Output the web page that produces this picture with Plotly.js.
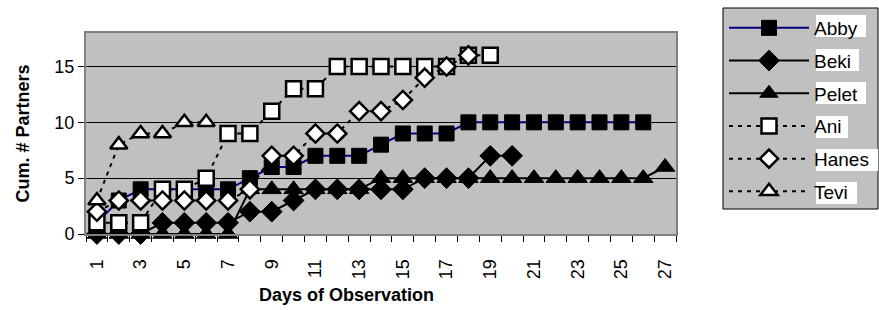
<!DOCTYPE html>
<html>
<head>
<meta charset="utf-8">
<script src="https://cdn.plot.ly/plotly-3.0.1.min.js"></script>
<style>html,body{margin:0;padding:0;background:#fff;}#chart{width:879px;height:310px;}</style>
</head>
<body>
<div id="chart"></div>
<script>
// Days of observation (categories)
const days = Array.from({length: 27}, (_, i) => i + 1);
const xTickLabels = ["1","3","5","7","9","11","13","15","17","19","21","23","25","27"];
// Cumulative number of partners per animal (index 0 = day 1)
const abby  = [1,3,4,4,4,4,4,5,6,6,7,7,7,8,9,9,9,10,10,10,10,10,10,10,10,10];
const beki  = [0,0,0,1,1,1,1,2,2,3,4,4,4,4,4,5,5,5,7,7];
const pelet = [0,0,0,0,0,0,0,4,4,4,4,4,4,5,5,5,5,5,5,5,5,5,5,5,5,5,6];
const ani   = [1,1,1,4,4,5,9,9,11,13,13,15,15,15,15,15,15,16,16];
const hanes = [2,3,3,3,3,3,3,4,7,7,9,9,11,11,12,14,15,16];
const tevi  = [3,8,9,9,10,10];

const names = ["Abby","Beki","Pelet","Ani","Hanes","Tevi"];
const series = [abby, beki, pelet, ani, hanes, tevi];
const styles = [
  {line:{color:"#000080", width:2, dash:"solid"}, marker:{symbol:"square", size:15, color:"#000", line:{color:"#000", width:1}}},
  {line:{color:"#000", width:2, dash:"solid"}, marker:{symbol:"diamond", size:16, color:"#000", line:{color:"#000", width:1}}},
  {line:{color:"#000", width:2, dash:"solid"}, marker:{symbol:"triangle-up", size:17, color:"#000", line:{color:"#000", width:1}}},
  {line:{color:"#000", width:2, dash:"4px,5px"}, marker:{symbol:"square", size:15, color:"#fff", line:{color:"#000", width:2.5}}},
  {line:{color:"#000", width:2, dash:"4px,5px"}, marker:{symbol:"diamond", size:14, color:"#fff", line:{color:"#000", width:2.5}}},
  {line:{color:"#000", width:2, dash:"4px,5px"}, marker:{symbol:"triangle-up", size:15, color:"#fff", line:{color:"#000", width:2.5}}}
];

const traces = series.map((vals, i) => ({
  type: "scatter",
  mode: "lines+markers",
  name: names[i],
  legendgroup: "g" + i,
  x: days.slice(0, vals.length),
  y: vals,
  line: styles[i].line,
  marker: styles[i].marker,
  cliponaxis: false
}));

// Legend decoration (gray box, white label backgrounds) in pixel space -> paper space
const M = {l: 86, r: 203, t: 33, b: 76};
const PW = 879 - M.l - M.r, PH = 310 - M.t - M.b;
const px = v => (v - M.l) / PW;
const py = v => (310 - M.b - v) / PH;
const labelWidths = [50, 43, 50, 32, 62, 41];
const labelCenters = [26, 60, 93, 127, 160, 193];
const shapes = [{
  type: "rect", xref: "paper", yref: "paper", layer: "below",
  x0: px(723), x1: px(878), y0: py(209), y1: py(8),
  fillcolor: "#C0C0C0", line: {color: "#000", width: 1}
}].concat(labelCenters.map((c, i) => ({
  type: "rect", xref: "paper", yref: "paper", layer: "below",
  x0: px(816), x1: px(816 + labelWidths[i]), y0: py(c + 11), y1: py(c - 11),
  fillcolor: "#ffffff", line: {width: 0}
})));

const font = "Liberation Sans, Arial, sans-serif";
const layout = {
  width: 879, height: 310,
  margin: {l: M.l, r: M.r, t: M.t, b: M.b, autoexpand: false},
  paper_bgcolor: "#ffffff",
  plot_bgcolor: "#C0C0C0",
  font: {family: font, size: 18, color: "#000"},
  showlegend: true,
  legend: {
    x: px(724), xanchor: "left", y: py(9), yanchor: "top",
    bgcolor: "rgba(0,0,0,0)", borderwidth: 0,
    font: {family: font, size: 19, color: "#000"},
    itemwidth: 80, tracegroupgap: 5, traceorder: "grouped",
    maxheight: 300,
    itemclick: false
  },
  shapes: shapes,
  annotations: [{
    text: "<b>Days of Observation</b>",
    xref: "paper", yref: "paper", x: 0.442, y: -0.303,
    xanchor: "center", yanchor: "middle", showarrow: false,
    font: {family: font, size: 18, color: "#000"}
  }],
  xaxis: {
    type: "linear",
    range: [0.5, 27.5],
    tickmode: "array",
    tickvals: xTickLabels.map(Number),
    ticktext: xTickLabels,
    tickangle: -90,
    ticks: "",
    ticklabelstandoff: 16,
    showgrid: false,
    zeroline: false,
    showline: true, linecolor: "#808080", linewidth: 2, mirror: true,
    tickfont: {family: font, size: 18},
    minor: {tickmode: "linear", tick0: 0.5, dtick: 1, ticks: "outside", ticklen: 6, tickcolor: "#000", tickwidth: 1, showgrid: false}
  },
  yaxis: {
    range: [0, 18],
    tickmode: "array",
    tickvals: [0, 5, 10, 15],
    ticks: "outside", ticklen: 6, tickcolor: "#000",
    showgrid: true, gridcolor: "#000", gridwidth: 1,
    zeroline: false,
    showline: true, linecolor: "#808080", linewidth: 2, mirror: true,
    tickfont: {family: font, size: 18},
    title: {text: "Cum. # Partners", font: {family: font, size: 18, weight: "bold"}, standoff: 20}
  }
};

Plotly.newPlot("chart", traces, layout, {displayModeBar: false, staticPlot: true});
</script>
</body>
</html>
